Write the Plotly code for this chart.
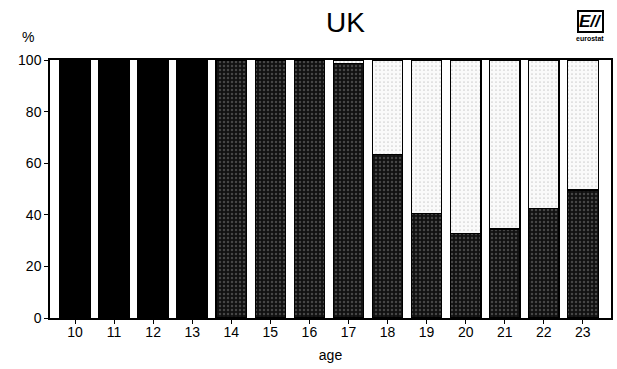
import plotly.graph_objects as go

ages = [10, 11, 12, 13, 14, 15, 16, 17, 18, 19, 20, 21, 22, 23]
# share in compulsory schooling (black), other education (dark), remainder (light)
compulsory = [100, 100, 100, 100, 0, 0, 0, 0, 0, 0, 0, 0, 0, 0]
education = [0, 0, 0, 0, 100, 100, 100, 98.5, 63.4, 40.6, 32.6, 34.5, 42.5, 49.6]
other = [0, 0, 0, 0, 0, 0, 0, 1.5, 36.6, 59.4, 67.4, 65.5, 57.5, 50.4]
y_ticks = [0, 20, 40, 60, 80, 100]

font = "Liberation Sans, Arial, sans-serif"
fig = go.Figure()
fig.add_bar(x=ages, y=compulsory, marker=dict(color="#000000", line=dict(color="black", width=1.2)), width=0.78)
fig.add_bar(x=ages, y=education, width=0.78,
            marker=dict(color="#2a2a2a", line=dict(color="black", width=1.2),
                        pattern=dict(shape=".", fgcolor="#7a7a7a", bgcolor="#111111", size=4, solidity=0.3)))
fig.add_bar(x=ages, y=other, width=0.78,
            marker=dict(color="#f2f2f2", line=dict(color="black", width=1.2),
                        pattern=dict(shape=".", fgcolor="#a8a8a8", bgcolor="#fafafa", size=4, solidity=0.15)))

fig.update_layout(
    barmode="stack", width=617, height=369, showlegend=False,
    plot_bgcolor="white", paper_bgcolor="white",
    margin=dict(l=50, r=4, t=60, b=51),
    font=dict(family=font, size=14, color="black"),
    title=dict(text="UK", x=0.56, xanchor="center", y=0.94, yanchor="middle", font=dict(size=28, family=font)),
    xaxis=dict(tickmode="array", tickvals=ages, ticktext=[str(a) for a in ages], range=[9.36, 23.72],
               ticks="outside", tickson="boundaries", ticklen=4, tickcolor="black", ticklabelstandoff=-4,
               showline=True, linecolor="black", linewidth=1.5, mirror=True, showgrid=False,
               title=dict(text="age", font=dict(size=14), standoff=12)),
    yaxis=dict(range=[0, 100], tickvals=y_ticks, ticks="outside", ticklen=4, tickcolor="black",
               showline=True, linecolor="black", linewidth=1.5, mirror=True, showgrid=False, zeroline=False),
)
fig.add_annotation(text="%", xref="paper", yref="paper", x=-0.039, y=1.089, xanchor="center", yanchor="middle",
                   showarrow=False, font=dict(size=14, family=font))
fig.add_annotation(text="<b><i>E//</i></b>", xref="paper", yref="paper", x=0.963, y=1.151, xanchor="center",
                   yanchor="middle", showarrow=False,
                   font=dict(size=17, family=font), bordercolor="black", borderwidth=2, borderpad=0)
fig.add_annotation(text="<b>eurostat</b>", xref="paper", yref="paper", x=0.963, y=1.085, xanchor="center",
                   yanchor="middle", showarrow=False, font=dict(size=7, family=font))
fig.write_html("out.html", config={"displayModeBar": False},
               post_script="document.body.style.margin='0';window.dispatchEvent(new Event('resize'));")
